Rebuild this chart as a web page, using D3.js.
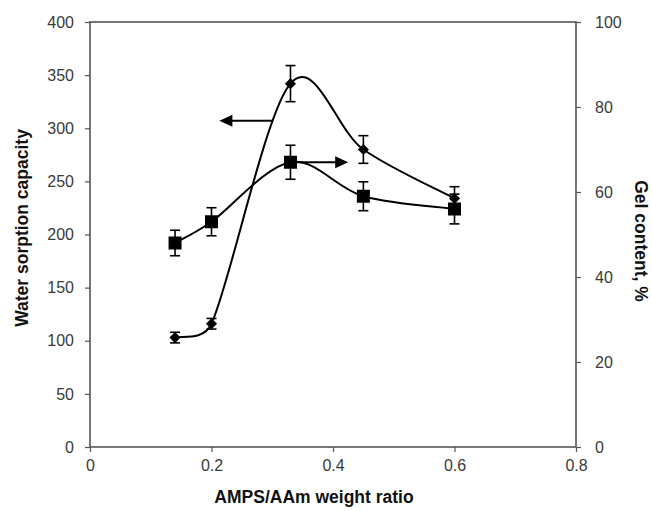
<!DOCTYPE html>
<html><head><meta charset="utf-8">
<script src="https://cdn.jsdelivr.net/npm/d3@7"></script>
<style>body{margin:0;background:#fff}</style>
</head><body>
<svg id="c" width="652" height="511"></svg>
<script>
const ratios = [0.14, 0.2, 0.33, 0.45, 0.6];
const waterSorption = [103, 116, 342, 280, 234];
const waterErr = [5, 5, 17, 13, 11];
const gelContent = [48, 53, 67, 59, 56];
const gelErr = [3, 3.3, 4, 3.4, 3.5];
const xTicks = [0, 0.2, 0.4, 0.6, 0.8];
const yLeftTicks = [0, 50, 100, 150, 200, 250, 300, 350, 400];
const yRightTicks = [0, 20, 40, 60, 80, 100];
// annotation arrows [x1, x2, y] in data units (left axis / right axis)
const leftArrow = {from: 0.30, to: 0.213, y: 307};
const rightArrow = {from: 0.33, to: 0.425, y: 67};

const svg = d3.select("#c");
const L = 90, R = 576, T = 22, B = 447;
const x = d3.scaleLinear().domain([0, 0.8]).range([L, R]);
const yL = d3.scaleLinear().domain([0, 400]).range([B, T]);
const yR = d3.scaleLinear().domain([0, 100]).range([B, T]);
const axisCol = "#555", textCol = "#3a3a3a";
const font = "Liberation Sans, Arial, sans-serif";

// frame
svg.append("rect").attr("x", L).attr("y", T).attr("width", R - L).attr("height", B - T)
  .attr("fill", "none").attr("stroke", axisCol).attr("stroke-width", 1.6);

function styleAxis(g) {
  g.select(".domain").remove();
  g.selectAll(".tick line").attr("stroke", axisCol).attr("stroke-width", 1.2);
  g.selectAll(".tick text").attr("fill", textCol).attr("font-family", font).attr("font-size", 16);
}
svg.append("g").attr("transform", `translate(0,${B})`)
  .call(d3.axisBottom(x).tickValues(xTicks).tickFormat(d => d === 0 ? "0" : d3.format(".1f")(d)).tickSize(5).tickPadding(8))
  .call(styleAxis);
svg.append("g").attr("transform", `translate(${L},0)`)
  .call(d3.axisLeft(yL).tickValues(yLeftTicks).tickFormat(d3.format("d")).tickSize(5).tickPadding(11))
  .call(styleAxis);
svg.append("g").attr("transform", `translate(${R},0)`)
  .call(d3.axisRight(yR).tickValues(yRightTicks).tickFormat(d3.format("d")).tickSize(5).tickPadding(14))
  .call(styleAxis);

// titles
const tStyle = s => s.attr("text-anchor", "middle").attr("font-family", font)
  .attr("font-weight", "bold").attr("font-size", 17.5).attr("fill", "#111");
svg.append("text").attr("x", 314).attr("y", 503).call(tStyle).text("AMPS/AAm weight ratio");
svg.append("text").attr("transform", `translate(28,228) rotate(-90)`).call(tStyle).text("Water sorption capacity");
svg.append("text").attr("transform", `translate(635,241) rotate(90)`).call(tStyle).text("Gel content, %");

// spreadsheet-style smoothed line (Bezier with 1/6 tangents, limited to half segment)
function smoothPath(pts) {
  const p = d3.path();
  const dist = (a, b) => Math.hypot(b[0] - a[0], b[1] - a[1]);
  p.moveTo(pts[0][0], pts[0][1]);
  for (let i = 0; i < pts.length - 1; i++) {
    const p0 = pts[Math.max(0, i - 1)], p1 = pts[i], p2 = pts[i + 1], p3 = pts[Math.min(pts.length - 1, i + 2)];
    const d12 = dist(p1, p2), d02 = dist(p0, p2), d13 = dist(p1, p3);
    let f0 = 1 / 6, f1 = 1 / 6;
    if (d02 / 6 >= d12 / 2 && d02 > 0) f0 = d12 / d02 / 2;
    if (d13 / 6 >= d12 / 2 && d13 > 0) f1 = d12 / d13 / 2;
    const c1 = [p1[0] + (p2[0] - p0[0]) * f0, p1[1] + (p2[1] - p0[1]) * f0];
    const c2 = [p2[0] - (p3[0] - p1[0]) * f1, p2[1] - (p3[1] - p1[1]) * f1];
    p.bezierCurveTo(c1[0], c1[1], c2[0], c2[1], p2[0], p2[1]);
  }
  return p.toString();
}
const ptsL = waterSorption.map((v, i) => [x(ratios[i]), yL(v)]);
const ptsR = gelContent.map((v, i) => [x(ratios[i]), yR(v)]);
svg.append("path").attr("d", smoothPath(ptsL)).attr("fill", "none").attr("stroke", "#000").attr("stroke-width", 2);
svg.append("path").attr("d", smoothPath(ptsR)).attr("fill", "none").attr("stroke", "#000").attr("stroke-width", 2);

function errBars(vals, errs, ys) {
  const g = svg.append("g").attr("stroke", "#000").attr("stroke-width", 1.6);
  vals.forEach((v, i) => {
    const cx = x(ratios[i]), y1 = ys(v - errs[i]), y2 = ys(v + errs[i]);
    g.append("line").attr("x1", cx).attr("x2", cx).attr("y1", y1).attr("y2", y2);
    g.append("line").attr("x1", cx - 5).attr("x2", cx + 5).attr("y1", y1).attr("y2", y1);
    g.append("line").attr("x1", cx - 5).attr("x2", cx + 5).attr("y1", y2).attr("y2", y2);
  });
}
errBars(waterSorption, waterErr, yL);
errBars(gelContent, gelErr, yR);

// markers
svg.append("g").selectAll("path").data(waterSorption).join("path")
  .attr("transform", (d, i) => `translate(${x(ratios[i])},${yL(d)}) rotate(45)`)
  .attr("d", d3.symbol(d3.symbolSquare, 62)).attr("fill", "#000");
svg.append("g").selectAll("rect").data(gelContent).join("rect")
  .attr("x", (d, i) => x(ratios[i]) - 6.5).attr("y", d => yR(d) - 6.5)
  .attr("width", 13).attr("height", 13).attr("fill", "#000");

// arrows
function arrow(x1, x2, y) {
  const dir = Math.sign(x2 - x1);
  svg.append("line").attr("x1", x1).attr("x2", x2 - dir * 10).attr("y1", y).attr("y2", y)
    .attr("stroke", "#000").attr("stroke-width", 2);
  svg.append("path").attr("d", `M${x2},${y} L${x2 - dir * 13},${y - 6} L${x2 - dir * 13},${y + 6} Z`).attr("fill", "#000");
}
arrow(x(leftArrow.from), x(leftArrow.to), yL(leftArrow.y));
arrow(x(rightArrow.from), x(rightArrow.to), yR(rightArrow.y));
</script>
</body></html>
